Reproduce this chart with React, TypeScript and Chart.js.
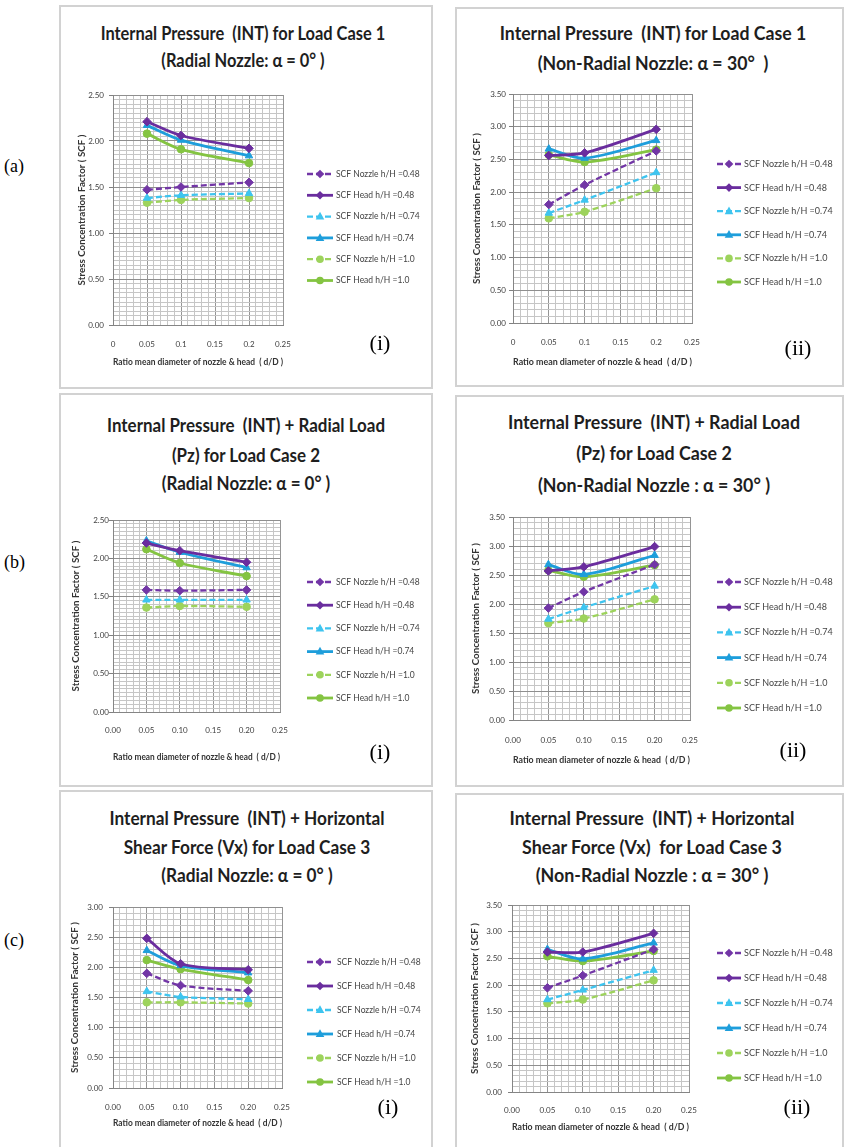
import React, { useEffect, useRef } from 'react';
import { Chart, registerables } from 'chart.js';
Chart.register(...registerables);

// ---------- DATA ----------
const ratioDD = [0.05, 0.1, 0.2];
const seriesLabels = [
  'SCF Nozzle h/H =0.48',
  'SCF Head h/H =0.48',
  'SCF Nozzle h/H =0.74',
  'SCF Head h/H =0.74',
  'SCF Nozzle h/H =1.0',
  'SCF Head h/H =1.0',
];
// rows follow seriesLabels, columns follow ratioDD
const lc1Radial = [
  [1.47, 1.5, 1.55],
  [2.21, 2.06, 1.92],
  [1.38, 1.41, 1.43],
  [2.17, 2.01, 1.84],
  [1.33, 1.36, 1.38],
  [2.08, 1.91, 1.76],
];
const lc1NonRadial = [
  [1.81, 2.11, 2.63],
  [2.56, 2.6, 2.96],
  [1.68, 1.88, 2.3],
  [2.66, 2.52, 2.79],
  [1.6, 1.7, 2.06],
  [2.57, 2.46, 2.65],
];
const lc2Radial = [
  [1.59, 1.58, 1.59],
  [2.2, 2.1, 1.95],
  [1.46, 1.46, 1.46],
  [2.23, 2.08, 1.88],
  [1.36, 1.38, 1.37],
  [2.12, 1.94, 1.77],
];
const lc2NonRadial = [
  [1.93, 2.21, 2.68],
  [2.57, 2.64, 2.99],
  [1.74, 1.94, 2.31],
  [2.68, 2.51, 2.84],
  [1.67, 1.75, 2.08],
  [2.58, 2.47, 2.67],
];
const lc3Radial = [
  [1.9, 1.7, 1.61],
  [2.48, 2.06, 1.96],
  [1.6, 1.51, 1.47],
  [2.28, 2.03, 1.91],
  [1.42, 1.42, 1.4],
  [2.12, 1.97, 1.79],
];
const lc3NonRadial = [
  [1.95, 2.18, 2.67],
  [2.62, 2.62, 2.97],
  [1.73, 1.91, 2.28],
  [2.67, 2.49, 2.79],
  [1.66, 1.73, 2.09],
  [2.54, 2.45, 2.64],
];
const xTickLabelsPlain = ['0', '0.05', '0.1', '0.15', '0.2', '0.25'];
const xTickLabelsFixed = ['0.00', '0.05', '0.10', '0.15', '0.20', '0.25'];
const xAxisTitle = 'Ratio mean diameter of nozzle & head  ( d/D )';
const yAxisTitle = 'Stress Concentration Factor ( SCF )';

// ---------- STYLES ----------
const seriesColors = ['#7236A6', '#6A2D9E', '#3EC4EF', '#1E9EDB', '#9DD35C', '#84C442'];
const seriesDashed = [true, false, true, false, true, false];
const seriesMarkers = ['rectRot', 'rectRot', 'triangle', 'triangle', 'circle', 'circle'];
const FONT = 'Lato, "Open Sans", sans-serif';
const SERIF = '"Liberation Serif", "DejaVu Serif", serif';

type Lay = {
  L: number; T: number; W: number; H: number;
  pl: number; pr: number; pt: number; pb: number;
  xTickY: number; xTitleY: number; yTitleX: number; yLabelRight: number;
  legend: { x0: number; x1: number; tx: number; y0: number; dy: number; size: number };
};

const charts = [
  {
    id: 'a1', values: lc1Radial, yMax: 2.5, yMinor: 0.05, xLabels: xTickLabelsPlain,
    title: { lines: ['Internal Pressure  (INT) for Load Case 1', '(Radial Nozzle: \u03b1 = 0\u00b0 )'], cx: 243, ys: [33, 60], w: 285 },
    tag: '(i)', tagPos: [380, 343],
    lay: { L: 61, T: 80, W: 370, H: 300, pl: 113, pr: 283, pt: 95, pb: 325, xTickY: 344, xTitleY: 362, yTitleX: 82, yLabelRight: 104,
      legend: { x0: 307, x1: 333, tx: 336, y0: 174, dy: 21.3, size: 8.5 } },
  },
  {
    id: 'a2', values: lc1NonRadial, yMax: 3.5, yMinor: 0.1, xLabels: xTickLabelsPlain,
    title: { lines: ['Internal Pressure  (INT) for Load Case 1', '(Non-Radial Nozzle: \u03b1 = 30\u00b0  )'], cx: 653, ys: [33, 63], w: 307 },
    tag: '(ii)', tagPos: [798, 348],
    lay: { L: 457, T: 80, W: 384, H: 300, pl: 513, pr: 692, pt: 94, pb: 323, xTickY: 342, xTitleY: 362, yTitleX: 477, yLabelRight: 506,
      legend: { x0: 717, x1: 741, tx: 744, y0: 164, dy: 23.6, size: 9 } },
  },
  {
    id: 'b1', values: lc2Radial, yMax: 2.5, yMinor: 0.05, xLabels: xTickLabelsFixed,
    title: { lines: ['Internal Pressure  (INT) + Radial Load', '(Pz) for Load Case 2', '(Radial Nozzle: \u03b1 = 0\u00b0 )'], cx: 246, ys: [425, 455, 483], w: 278 },
    tag: '(i)', tagPos: [380, 752],
    lay: { L: 61, T: 500, W: 370, H: 280, pl: 113, pr: 280, pt: 520, pb: 712, xTickY: 730, xTitleY: 757, yTitleX: 76, yLabelRight: 109,
      legend: { x0: 307, x1: 333, tx: 336, y0: 582, dy: 23.2, size: 8.5 } },
  },
  {
    id: 'b2', values: lc2NonRadial, yMax: 3.5, yMinor: 0.1, xLabels: xTickLabelsFixed,
    title: { lines: ['Internal Pressure  (INT) + Radial Load', '(Pz) for Load Case 2', '(Non-Radial Nozzle : \u03b1 = 30\u00b0 )'], cx: 654, ys: [422, 453, 485], w: 292 },
    tag: '(ii)', tagPos: [793, 750],
    lay: { L: 457, T: 500, W: 384, H: 280, pl: 513, pr: 690, pt: 517, pb: 720, xTickY: 740, xTitleY: 760, yTitleX: 476, yLabelRight: 505,
      legend: { x0: 717, x1: 741, tx: 744, y0: 582, dy: 25.2, size: 9 } },
  },
  {
    id: 'c1', values: lc3Radial, yMax: 3.0, yMinor: 0.1, xLabels: xTickLabelsFixed,
    title: { lines: ['Internal Pressure  (INT) + Horizontal', 'Shear Force (Vx) for Load Case 3', '(Radial Nozzle: \u03b1 = 0\u00b0 )'], cx: 247, ys: [818, 847, 875], w: 275 },
    tag: '(i)', tagPos: [388, 1107],
    lay: { L: 61, T: 890, W: 370, H: 250, pl: 113, pr: 282, pt: 907, pb: 1088, xTickY: 1107, xTitleY: 1123, yTitleX: 75, yLabelRight: 103,
      legend: { x0: 307, x1: 333, tx: 337, y0: 962, dy: 24, size: 8.5 } },
  },
  {
    id: 'c2', values: lc3NonRadial, yMax: 3.5, yMinor: 0.1, xLabels: xTickLabelsFixed,
    title: { lines: ['Internal Pressure  (INT) + Horizontal', 'Shear Force (Vx)  for Load Case 3', '(Non-Radial Nozzle : \u03b1 = 30\u00b0 )'], cx: 652, ys: [818, 847, 875], w: 285 },
    tag: '(ii)', tagPos: [797, 1107],
    lay: { L: 457, T: 890, W: 384, H: 250, pl: 512, pr: 689, pt: 905, pb: 1092, xTickY: 1110, xTitleY: 1127, yTitleX: 475, yLabelRight: 502,
      legend: { x0: 717, x1: 741, tx: 744, y0: 953, dy: 25, size: 9 } },
  },
];

const panels = [
  { left: 59, top: 5, width: 374, height: 384 },
  { left: 455, top: 7, width: 389, height: 380 },
  { left: 59, top: 393, width: 374, height: 394 },
  { left: 455, top: 395, width: 389, height: 392 },
  { left: 59, top: 790, width: 374, height: 370 },
  { left: 455, top: 793, width: 389, height: 370 },
];

const rowLabels = [
  { text: '(a)', x: 4, y: 166 },
  { text: '(b)', x: 4, y: 562 },
  { text: '(c)', x: 4, y: 940 },
];

// ---------- HELPERS ----------
const isMult = (v: number, m: number) => Math.abs(v / m - Math.round(v / m)) < 1e-6;

function drawMarker(ctx: CanvasRenderingContext2D, style: string, x: number, y: number, r: number, color: string) {
  ctx.save();
  ctx.fillStyle = color;
  ctx.setLineDash([]);
  ctx.beginPath();
  if (style === 'rectRot') {
    ctx.moveTo(x, y - r); ctx.lineTo(x + r, y); ctx.lineTo(x, y + r); ctx.lineTo(x - r, y); ctx.closePath();
  } else if (style === 'triangle') {
    ctx.moveTo(x, y - r * 1.1); ctx.lineTo(x + r, y + r * 0.7); ctx.lineTo(x - r, y + r * 0.7); ctx.closePath();
  } else {
    ctx.arc(x, y, r, 0, Math.PI * 2);
  }
  ctx.fill();
  ctx.restore();
}

function makeLegendPlugin(lay: Lay) {
  return {
    id: 'scfLegend',
    afterDraw(chart: any) {
      const ctx: CanvasRenderingContext2D = chart.ctx;
      const lg = lay.legend;
      chart.data.datasets.forEach((ds: any, i: number) => {
        const y = lg.y0 + i * lg.dy - lay.T;
        const x0 = lg.x0 - lay.L;
        const x1 = lg.x1 - lay.L;
        ctx.save();
        ctx.strokeStyle = ds.borderColor;
        ctx.lineWidth = ds.borderWidth;
        ctx.setLineDash(ds.borderDash || []);
        ctx.beginPath(); ctx.moveTo(x0, y); ctx.lineTo(x1, y); ctx.stroke();
        drawMarker(ctx, ds.pointStyle, (x0 + x1) / 2, y, ds.pointRadius, ds.borderColor);
        ctx.fillStyle = '#444444';
        ctx.font = `${lg.size}px ${FONT}`;
        ctx.textBaseline = 'middle';
        ctx.textAlign = 'left';
        ctx.fillText(ds.label, lg.tx - lay.L, y);
        ctx.restore();
      });
    },
  };
}

function buildConfig(spec: any) {
  const lay: Lay = spec.lay;
  const tickFont = { family: FONT, size: 8 };
  const titleSize = 9.8;
  const titleFont = { family: FONT, size: titleSize, weight: 'bold' as const };
  const tl = 4;
  const yAxisW = lay.pl - lay.L;
  const padTop = lay.pt - lay.T;
  const padRight = lay.L + lay.W - lay.pr;
  const titleLH = titleSize * 1.2;
  const xAxisH = lay.xTitleY - lay.pb + titleLH / 2 + 1;
  const padBottom = lay.T + lay.H - (lay.pb + xAxisH);
  const xTickPad = lay.xTickY - lay.pb - (8 * 1.2) / 2;
  const yTitlePad = lay.yTitleX - lay.L - titleLH / 2;
  const yTickPad = lay.pl - lay.yLabelRight - tl;

  const datasets = seriesLabels.map((label, i) => ({
    label,
    data: ratioDD.map((x, j) => ({ x, y: spec.values[i][j] })),
    borderColor: seriesColors[i],
    backgroundColor: seriesColors[i],
    pointBackgroundColor: seriesColors[i],
    pointBorderColor: seriesColors[i],
    borderWidth: seriesDashed[i] ? 2.3 : 2.8,
    borderDash: seriesDashed[i] ? [6, 3] : [],
    pointStyle: seriesMarkers[i],
    pointRadius: seriesMarkers[i] === 'circle' ? 3.8 : 4.3,
    pointBorderWidth: 1,
    tension: 0.3,
    fill: false,
  }));

  return {
    type: 'line' as const,
    data: { datasets },
    plugins: [makeLegendPlugin(lay)],
    options: {
      animation: false,
      responsive: false,
      maintainAspectRatio: false,
      layout: { padding: { left: 0, top: padTop, right: padRight, bottom: padBottom } },
      plugins: { legend: { display: false }, tooltip: { enabled: false }, title: { display: false } },
      scales: {
        x: {
          type: 'linear',
          min: 0,
          max: 0.25,
          ticks: {
            stepSize: 0.01,
            autoSkip: false,
            maxRotation: 0,
            padding: xTickPad,
            font: tickFont,
            color: '#404040',
            callback: (v: number) => (isMult(v, 0.05) ? spec.xLabels[Math.round(v / 0.05)] : ''),
          },
          grid: {
            drawTicks: false,
            lineWidth: 1,
            color: (ctx: any) => (ctx.tick && isMult(ctx.tick.value, 0.05) ? '#959595' : '#c6c6c6'),
          },
          border: { display: true, color: '#858585' },
          title: { display: true, text: xAxisTitle, font: titleFont, color: '#333', padding: { top: 0, bottom: 1 } },
          afterFit: (s: any) => { s.height = xAxisH; },
        },
        y: {
          type: 'linear',
          min: 0,
          max: spec.yMax,
          ticks: {
            stepSize: spec.yMinor,
            autoSkip: false,
            padding: yTickPad,
            font: tickFont,
            color: '#404040',
            callback: (v: number) => (isMult(v, 0.5) ? Number(v).toFixed(2) : ''),
          },
          grid: {
            drawTicks: true,
            tickLength: tl,
            lineWidth: 1,
            color: (ctx: any) => (ctx.tick && isMult(ctx.tick.value, 0.5) ? '#8f8f8f' : '#c6c6c6'),
            tickColor: (ctx: any) => (ctx.tick && isMult(ctx.tick.value, 0.5) ? '#808080' : 'rgba(0,0,0,0)'),
          },
          border: { display: true, color: '#858585' },
          title: { display: true, text: yAxisTitle, font: titleFont, color: '#333', padding: { top: yTitlePad, bottom: 0 } },
          afterFit: (s: any) => { s.width = yAxisW; },
        },
      },
    },
  };
}

let measureCtx: CanvasRenderingContext2D | null = null;
function measure(text: string, font: string) {
  if (!measureCtx) measureCtx = document.createElement('canvas').getContext('2d');
  measureCtx!.font = font;
  return measureCtx!.measureText(text).width;
}

function TitleBlock({ t }: { t: { lines: string[]; cx: number; ys: number[]; w: number } }) {
  const size = 18.5;
  const font = `700 ${size}px Lato`;
  const natural = measure(t.lines[0], font) || t.w;
  const sx = t.w / natural;
  return (
    <>
      {t.lines.map((line, i) => (
        <div
          key={i}
          style={{
            position: 'absolute', left: t.cx, top: t.ys[i], whiteSpace: 'pre',
            transform: `translate(-50%, -50%) scaleX(${sx})`,
            font: `700 ${size}px ${FONT}`, lineHeight: 1, color: '#1e1e1e',
          }}
        >
          {line}
        </div>
      ))}
    </>
  );
}

function SCFChart({ spec }: { spec: any }) {
  const ref = useRef<HTMLCanvasElement>(null);
  useEffect(() => {
    if (!ref.current) return;
    const chart = new Chart(ref.current, buildConfig(spec) as any);
    return () => chart.destroy();
  }, [spec]);
  const lay: Lay = spec.lay;
  return (
    <canvas
      ref={ref}
      width={lay.W}
      height={lay.H}
      style={{ position: 'absolute', left: lay.L, top: lay.T, width: lay.W, height: lay.H }}
    />
  );
}

export default function App() {
  return (
    <div style={{ position: 'absolute', left: 0, top: 0, width: 846, height: 1147, overflow: 'hidden', background: '#fff' }}>
      {panels.map((p, i) => (
        <div
          key={i}
          style={{
            position: 'absolute', left: p.left, top: p.top, width: p.width, height: p.height,
            boxSizing: 'border-box', border: '2px solid #d2d2d2', background: '#fff',
          }}
        />
      ))}
      {rowLabels.map((r) => (
        <div key={r.text} style={{ position: 'absolute', left: r.x, top: r.y, transform: 'translateY(-50%)', font: `18px ${SERIF}`, lineHeight: 1, color: '#000' }}>
          {r.text}
        </div>
      ))}
      {charts.map((c) => (
        <React.Fragment key={c.id}>
          <TitleBlock t={c.title} />
          <SCFChart spec={c} />
          <div style={{ position: 'absolute', left: c.tagPos[0], top: c.tagPos[1], transform: 'translate(-50%, -50%)', font: `22px ${SERIF}`, lineHeight: 1, color: '#000' }}>
            {c.tag}
          </div>
        </React.Fragment>
      ))}
    </div>
  );
}
